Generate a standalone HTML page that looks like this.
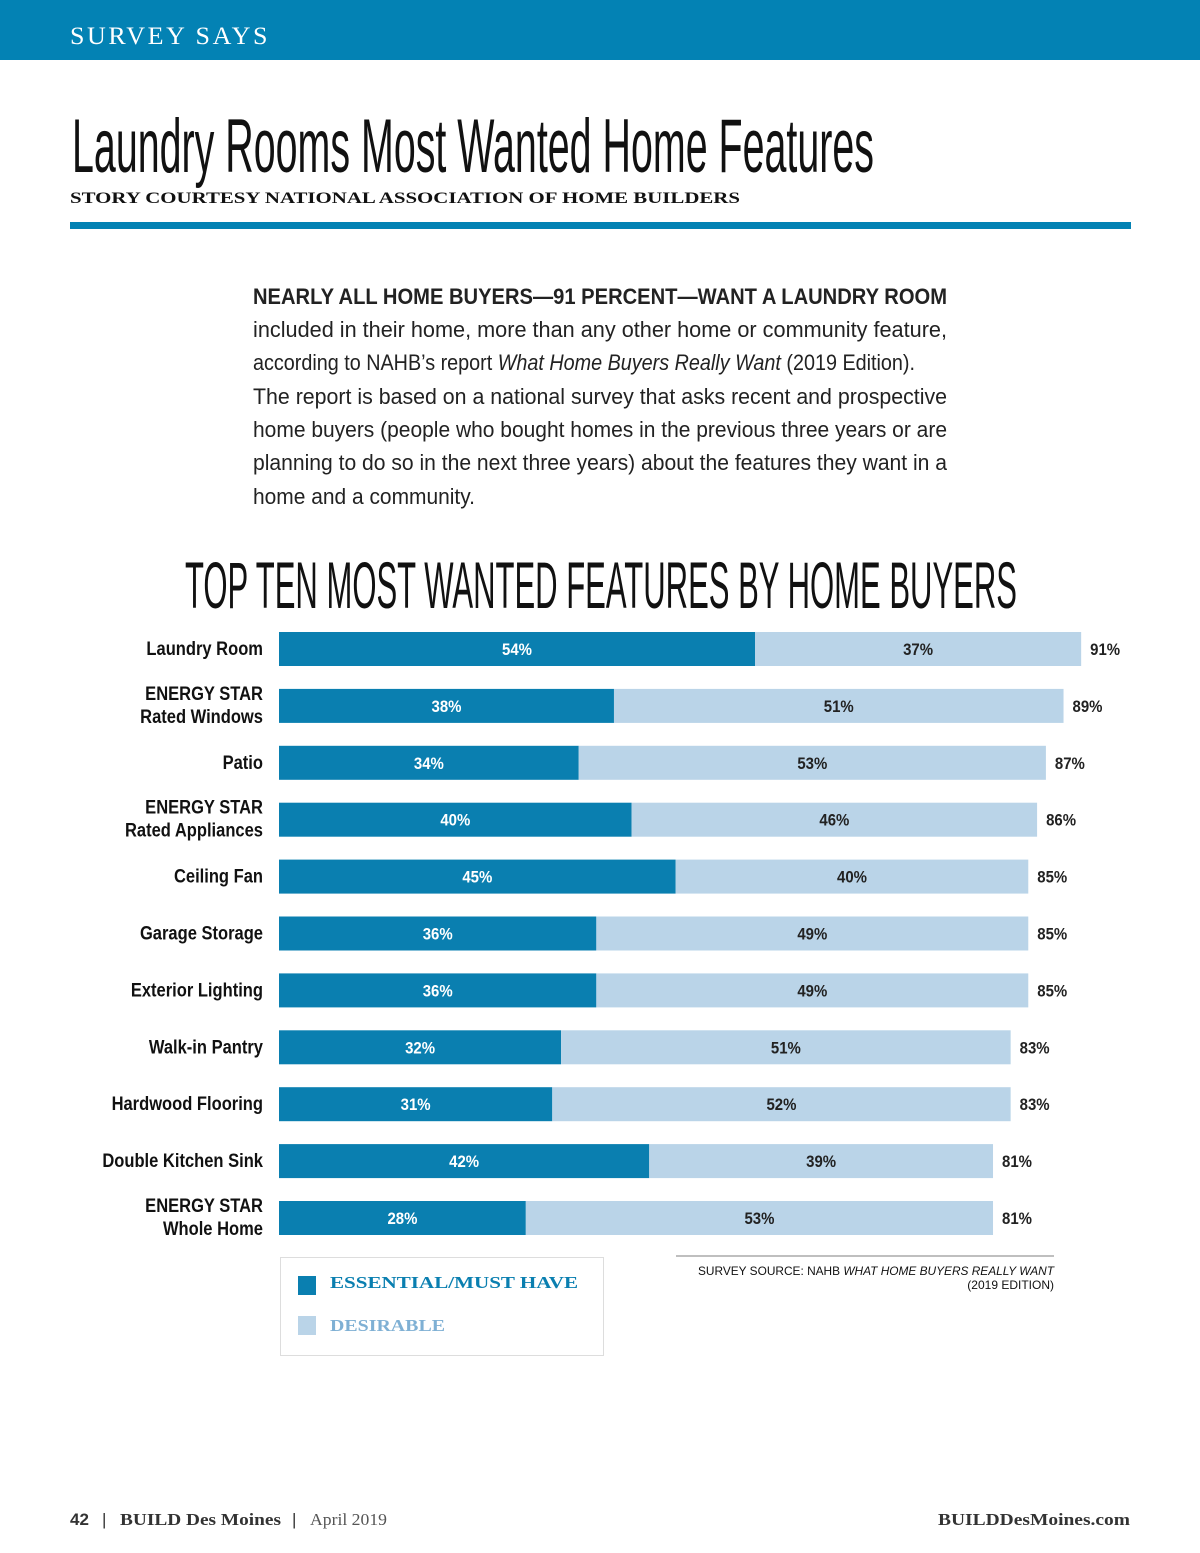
<!DOCTYPE html>
<html><head><meta charset="utf-8"><style>
html,body{margin:0;padding:0;background:#fff}
svg{display:block}
</style></head><body>
<svg width="1200" height="1553" viewBox="0 0 1200 1553" xmlns="http://www.w3.org/2000/svg">
<rect x="0" y="0" width="1200" height="60" fill="#0382b4"/>
<text x="70" y="44" font-family="Liberation Serif,serif" font-size="25" fill="#fff" letter-spacing="2.5" textLength="200" lengthAdjust="spacingAndGlyphs">SURVEY SAYS</text>
<text x="72" y="172" font-family="Liberation Sans,sans-serif" font-size="76" fill="#111" textLength="802" lengthAdjust="spacingAndGlyphs">Laundry Rooms Most Wanted Home Features</text>
<text x="70" y="203" font-family="Liberation Serif,serif" font-weight="bold" font-size="16" fill="#111" textLength="670" lengthAdjust="spacingAndGlyphs">STORY COURTESY NATIONAL ASSOCIATION OF HOME BUILDERS</text>
<rect x="70" y="222" width="1061" height="7" fill="#0382b4"/>
<g font-family="Liberation Sans,sans-serif" font-size="22" fill="#222">
<text x="253" y="304" font-weight="bold" textLength="694" lengthAdjust="spacingAndGlyphs">NEARLY ALL HOME BUYERS—91 PERCENT—WANT A LAUNDRY ROOM</text>
<text x="253" y="337" textLength="694" lengthAdjust="spacingAndGlyphs">included in their home, more than any other home or community feature,</text>
<text x="253" y="370" textLength="662" lengthAdjust="spacingAndGlyphs">according to NAHB’s report <tspan font-style="italic">What Home Buyers Really Want</tspan> (2019 Edition).</text>
<text x="253" y="404" textLength="694" lengthAdjust="spacingAndGlyphs">The report is based on a national survey that asks recent and prospective</text>
<text x="253" y="437" textLength="694" lengthAdjust="spacingAndGlyphs">home buyers (people who bought homes in the previous three years or are</text>
<text x="253" y="470" textLength="694" lengthAdjust="spacingAndGlyphs">planning to do so in the next three years) about the features they want in a</text>
<text x="253" y="504" textLength="222" lengthAdjust="spacingAndGlyphs">home and a community.</text>
</g>
<text x="185" y="608" font-family="Liberation Sans,sans-serif" font-size="66" fill="#111" textLength="832" lengthAdjust="spacingAndGlyphs">TOP TEN MOST WANTED FEATURES BY HOME BUYERS</text>
<g id="chart"></g>
<rect x="280.5" y="1257.5" width="323" height="98" fill="none" stroke="#ddd"/>
<rect x="298" y="1276" width="18" height="19" fill="#0a7fb0"/>
<text x="330" y="1288" font-family="Liberation Serif,serif" font-weight="bold" font-size="17" fill="#0a7fb0" textLength="248" lengthAdjust="spacingAndGlyphs">ESSENTIAL/MUST HAVE</text>
<rect x="298" y="1316" width="18" height="19" fill="#bad4e8"/>
<text x="330" y="1331" font-family="Liberation Serif,serif" font-weight="bold" font-size="17" fill="#7fb0d4" textLength="115" lengthAdjust="spacingAndGlyphs">DESIRABLE</text>
<line x1="676" y1="1256" x2="1054" y2="1256" stroke="#aaa" stroke-width="1.5"/>
<g font-family="Liberation Sans,sans-serif" font-size="12" fill="#111" text-anchor="end">
<text x="1054" y="1275" textLength="356" lengthAdjust="spacingAndGlyphs">SURVEY SOURCE: NAHB <tspan font-style="italic">WHAT HOME BUYERS REALLY WANT</tspan></text>
<text x="1054" y="1289">(2019 EDITION)</text>
</g>
<g font-size="17" fill="#333">
<text x="70" y="1525" font-family="Liberation Sans,sans-serif" font-weight="bold">42</text>
<text x="102" y="1525" font-family="Liberation Sans,sans-serif">|</text>
<text x="120" y="1525" font-family="Liberation Serif,serif" font-weight="bold" textLength="161" lengthAdjust="spacingAndGlyphs">BUILD Des Moines</text>
<text x="292" y="1525" font-family="Liberation Sans,sans-serif">|</text>
<text x="310" y="1525" font-family="Liberation Serif,serif" fill="#555" textLength="77" lengthAdjust="spacingAndGlyphs">April 2019</text>
<text x="938" y="1525" font-family="Liberation Serif,serif" font-weight="bold" textLength="192" lengthAdjust="spacingAndGlyphs">BUILDDesMoines.com</text>
</g>
</svg>
<script>
const categories = [["Laundry Room"],["ENERGY STAR","Rated Windows"],["Patio"],["ENERGY STAR","Rated Appliances"],["Ceiling Fan"],["Garage Storage"],["Exterior Lighting"],["Walk-in Pantry"],["Hardwood Flooring"],["Double Kitchen Sink"],["ENERGY STAR","Whole Home"]];
const essential = [54,38,34,40,45,36,36,32,31,42,28];
const desirable = [37,51,53,46,40,49,49,51,52,39,53];
const totals = [91,89,87,86,85,85,85,83,83,81,81];

const NS = "http://www.w3.org/2000/svg";
const x0 = 279, pxPer = 8.815, rowTop = 632, rowStep = 56.9, barH = 34;
const xs = v => x0 + v * pxPer;
const g = document.getElementById('chart');
function mk(tag, attrs, txt){const e=document.createElementNS(NS,tag);for(const k in attrs)e.setAttribute(k,attrs[k]);if(txt!==undefined)e.textContent=txt;g.appendChild(e);return e;}
categories.forEach((cat,i)=>{
  const y = rowTop + i*rowStep, cy = y + barH/2;
  const b1 = mk('rect',{x:xs(0),y:y,width:xs(essential[i])-xs(0),height:barH,fill:'#0a7fb0'});
  
  
  const b2 = mk('rect',{x:xs(essential[i]),y:y,width:xs(essential[i]+desirable[i])-xs(essential[i]),height:barH,fill:'#bad4e8'});
  
  
  const t1 = mk('text',{x:(xs(0)+xs(essential[i]))/2,y:cy+6,'text-anchor':'middle','font-family':'Liberation Sans,sans-serif','font-weight':'bold','font-size':17,fill:'#fff',transform:`translate(${(xs(0)+xs(essential[i]))/2*0.12},0) scale(0.88,1)`},essential[i]+'%');
  
  
  const mx=(xs(essential[i])+xs(essential[i]+desirable[i]))/2;
  const t2 = mk('text',{x:mx,y:cy+6,'text-anchor':'middle','font-family':'Liberation Sans,sans-serif','font-weight':'bold','font-size':17,fill:'#222',transform:`translate(${mx*0.12},0) scale(0.88,1)`},desirable[i]+'%');
  
  
  const tx = xs(totals[i])+9;
  const t3 = mk('text',{x:tx,y:cy+6,'font-family':'Liberation Sans,sans-serif','font-weight':'bold','font-size':17,fill:'#222',transform:`translate(${tx*0.12},0) scale(0.88,1)`},totals[i]+'%');
  
  
  const startY = cat.length===1 ? cy+6 : cy-6;
  cat.forEach((ln,j)=>{
    const l = mk('text',{x:263,y:startY+j*23,'text-anchor':'end','font-family':'Liberation Sans,sans-serif','font-weight':'bold','font-size':19,fill:'#111',transform:`translate(${263*0.13},0) scale(0.87,1)`},ln);
    
    
  });
});
</script>
</body></html>
